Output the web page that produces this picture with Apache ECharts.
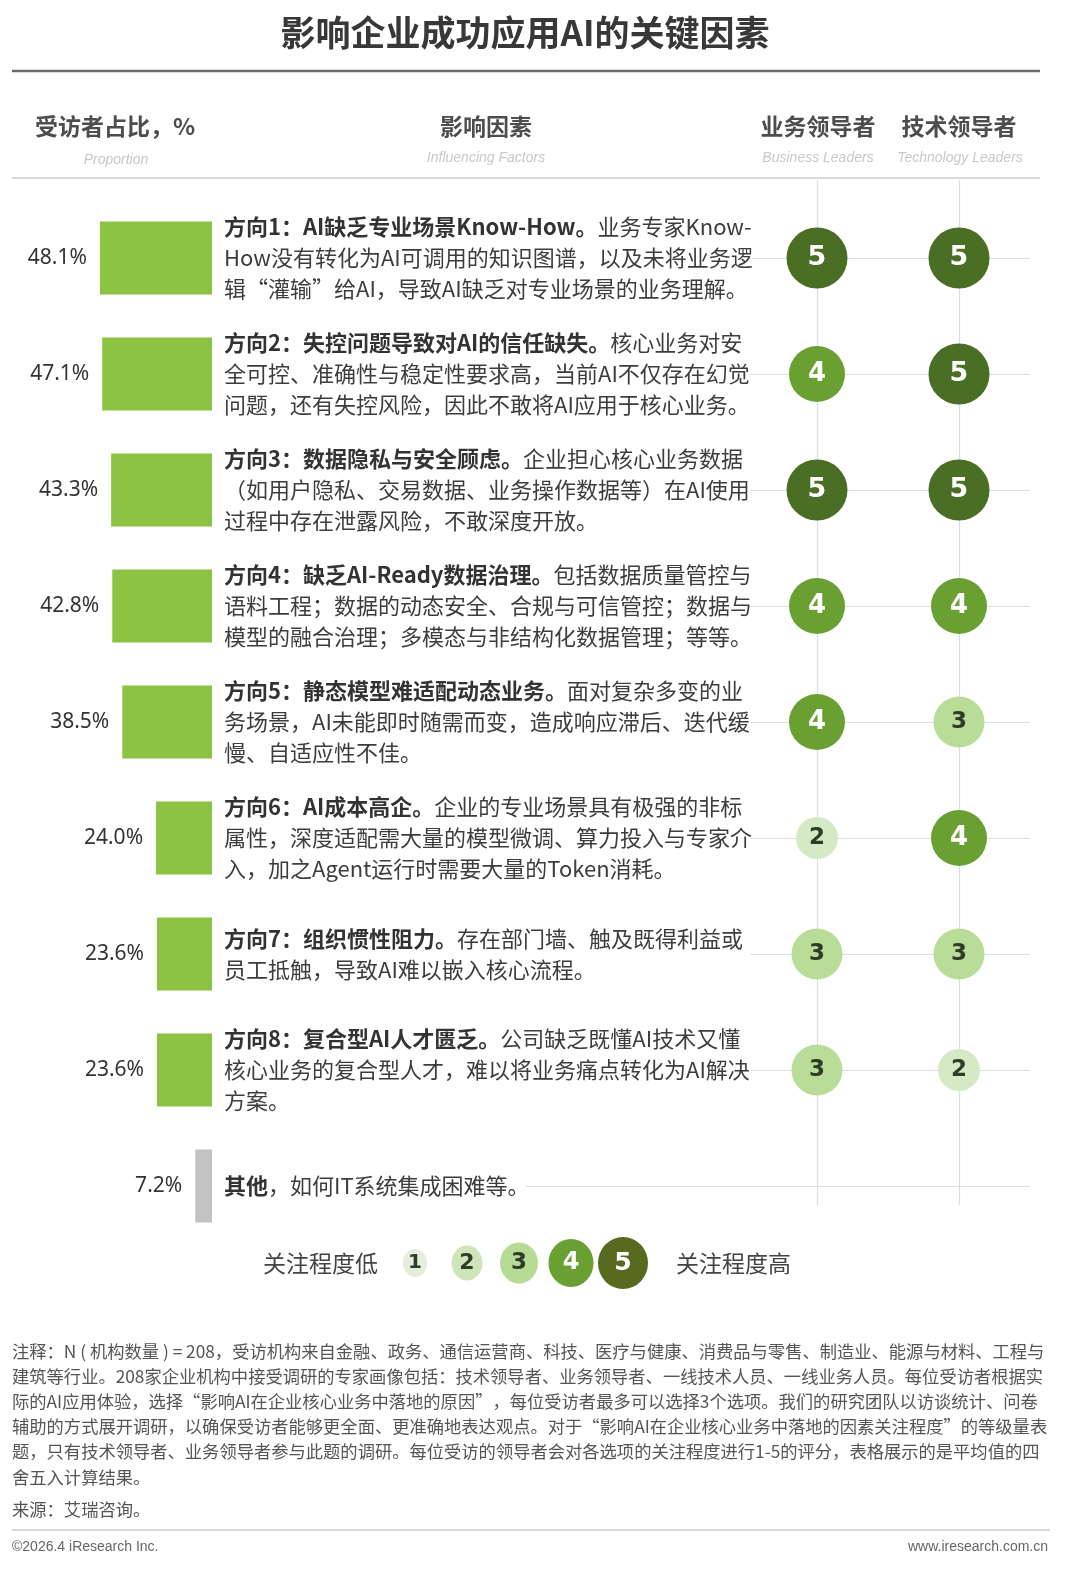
<!DOCTYPE html>
<html><head><meta charset="utf-8">
<script src="https://cdn.jsdelivr.net/npm/echarts@6/dist/echarts.min.js"></script>
<style>html,body{margin:0;padding:0;background:#fff}#c{width:1078px;height:1584px}</style>
</head><body><div id="c"></div>
<script>
// ---------- data ----------
const categories = ['方向1','方向2','方向3','方向4','方向5','方向6','方向7','方向8','其他'];
const proportion = [48.1, 47.1, 43.3, 42.8, 38.5, 24.0, 23.6, 23.6, 7.2];
const businessScores = [5, 4, 5, 4, 4, 2, 3, 3, null];
const techScores = [5, 5, 5, 4, 3, 4, 3, 2, null];
const legendLevels = [1, 2, 3, 4, 5];
const factorTitles = [
  '方向1：AI缺乏专业场景Know-How。',
  '方向2：失控问题导致对AI的信任缺失。',
  '方向3：数据隐私与安全顾虑。',
  '方向4：缺乏AI-Ready数据治理。',
  '方向5：静态模型难适配动态业务。',
  '方向6：AI成本高企。',
  '方向7：组织惯性阻力。',
  '方向8：复合型AI人才匮乏。',
  '其他'
];
const factorLines = [
  ['业务专家Know-', 'How没有转化为AI可调用的知识图谱，以及未将业务逻', '辑“灌输”给AI，导致AI缺乏对专业场景的业务理解。'],
  ['核心业务对安', '全可控、准确性与稳定性要求高，当前AI不仅存在幻觉', '问题，还有失控风险，因此不敢将AI应用于核心业务。'],
  ['企业担心核心业务数据', '（如用户隐私、交易数据、业务操作数据等）在AI使用', '过程中存在泄露风险，不敢深度开放。'],
  ['包括数据质量管控与', '语料工程；数据的动态安全、合规与可信管控；数据与', '模型的融合治理；多模态与非结构化数据管理；等等。'],
  ['面对复杂多变的业', '务场景，AI未能即时随需而变，造成响应滞后、迭代缓', '慢、自适应性不佳。'],
  ['企业的专业场景具有极强的非标', '属性，深度适配需大量的模型微调、算力投入与专家介', '入，加之Agent运行时需要大量的Token消耗。'],
  ['存在部门墙、触及既得利益或', '员工抵触，导致AI难以嵌入核心流程。'],
  ['公司缺乏既懂AI技术又懂', '核心业务的复合型人才，难以将业务痛点转化为AI解决', '方案。'],
  ['，如何IT系统集成困难等。']
];
const notesLines = [
  '注释：N ( 机构数量 ) = 208，受访机构来自金融、政务、通信运营商、科技、医疗与健康、消费品与零售、制造业、能源与材料、工程与',
  '建筑等行业。208家企业机构中接受调研的专家画像包括：技术领导者、业务领导者、一线技术人员、一线业务人员。每位受访者根据实',
  '际的AI应用体验，选择“影响AI在企业核心业务中落地的原因”，每位受访者最多可以选择3个选项。我们的研究团队以访谈统计、问卷',
  '辅助的方式展开调研，以确保受访者能够更全面、更准确地表达观点。对于“影响AI在企业核心业务中落地的因素关注程度”的等级量表',
  '题，只有技术领导者、业务领导者参与此题的调研。每位受访的领导者会对各选项的关注程度进行1-5的评分，表格展示的是平均值的四',
  '舍五入计算结果。'
];
const sourceText = '来源：艾瑞咨询。';

// ---------- styles ----------
const CJK = '"Noto Sans CJK SC", "Noto Sans", sans-serif';
const tableColors = {5: '#4a6e23', 4: '#6a9f31', 3: '#b9dc98', 2: '#d5e9c5', 1: '#e7efdf'};
const legendColors = {5: '#566b1d', 4: '#6a9f31', 3: '#b7da95', 2: '#cfe4bb', 1: '#e6eddd'};
const tableSizes = {5: 61, 4: 56, 3: 51, 2: 42, 1: 32};
const tableFont = {5: 27, 4: 26, 3: 23, 2: 23, 1: 21};
const legendSizes = {1: [24, 28], 2: [31, 35], 3: [38, 41], 4: [45, 48], 5: [50, 52]};
const legendFont = {1: 20, 2: 22, 3: 23, 4: 24, 5: 25};
const numFont = '"DejaVu Sans", sans-serif';

function descFormatter(value, idx) {
  const lines = factorLines[idx];
  let s = '{b|' + factorTitles[idx] + '}' + (lines[0] ? '{n|' + lines[0] + '}' : '');
  for (let k = 1; k < lines.length; k++) s += '\n{n|' + lines[k] + '}';
  return s;
}

const rowMin = -0.6724, rowMax = 8.1638; // grid1 vertical extent in row units
const colBiz = 0, colTech = 2, xMin = -4.1, xMax = 3, lineStart = -0.94;

const gridLines = [];
for (let i = 0; i < categories.length; i++) {
  gridLines.push([{coord: [i === categories.length - 1 ? xMin : lineStart, i]}, {coord: [xMax, i]}]);
}
gridLines.push([{coord: [colBiz, rowMin]}, {coord: [colBiz, rowMax]}]);
gridLines.push([{coord: [colTech, rowMin]}, {coord: [colTech, rowMax]}]);

function buildScore(scores, col) {
  return {
    type: 'scatter', xAxisIndex: 1, yAxisIndex: 1, z: 5, silent: true,
    data: scores.map((v, i) => v == null ? null : [col, i, v]).filter(d => d).map(d => ({
      value: d,
      symbolSize: tableSizes[d[2]],
      itemStyle: {color: tableColors[d[2]], opacity: 1},
      label: {color: d[2] >= 4 ? '#ffffff' : '#2e3d26', fontSize: tableFont[d[2]]}
    })),
    itemStyle: {opacity: 1},
    label: {
      show: true, position: 'inside', fontWeight: 'bold', fontFamily: numFont,
      formatter: p => String(p.value[2])
    }
  };
}

const graphics = [];
function txt(text, x, y, font, fill, align) {
  graphics.push({type: 'text', silent: true, style: {text, x, y, font, fill, textAlign: align || 'left', textVerticalAlign: 'middle'}});
}
function hline(x1, x2, y, stroke, w) {
  graphics.push({type: 'line', silent: true, shape: {x1, y1: y, x2, y2: y}, style: {stroke, lineWidth: w}});
}
txt('影响企业成功应用AI的关键因素', 525, 33, 'bold 35px ' + CJK, '#383838', 'center');
hline(12, 1040, 71, '#6b6b6b', 2.5);
txt('受访者占比，%', 35, 126, 'bold 23px ' + CJK, '#4d4d4d', 'left');
txt('Proportion', 116, 160, 'italic 14px "Liberation Sans", sans-serif', '#c8c8c8', 'center');
txt('影响因素', 486, 126, 'bold 23px ' + CJK, '#4d4d4d', 'center');
txt('Influencing Factors', 486, 158, 'italic 14px "Liberation Sans", sans-serif', '#c8c8c8', 'center');
txt('业务领导者', 818, 126, 'bold 23px ' + CJK, '#4d4d4d', 'center');
txt('Business Leaders', 818, 158, 'italic 14px "Liberation Sans", sans-serif', '#c8c8c8', 'center');
txt('技术领导者', 959, 126, 'bold 23px ' + CJK, '#4d4d4d', 'center');
txt('Technology Leaders', 960, 158, 'italic 14px "Liberation Sans", sans-serif', '#c8c8c8', 'center');
hline(12, 1040, 178, '#cccccc', 1.5);
txt('关注程度低', 378, 1263, '23px ' + CJK, '#444444', 'right');
txt('关注程度高', 676, 1263, '23px ' + CJK, '#444444', 'left');
notesLines.forEach((l, i) => txt(l, 12, 1351 + i * 25.2, '17.3px ' + CJK, '#555555', 'left'));
txt(sourceText, 12, 1509, '17.3px ' + CJK, '#555555', 'left');
hline(12, 1050, 1530, '#cccccc', 1.5);
txt('©2026.4 iResearch Inc.', 12, 1547, '14px "Liberation Sans", sans-serif', '#666666', 'left');
txt('www.iresearch.com.cn', 1048, 1547, '14px "Liberation Sans", sans-serif', '#666666', 'right');

const chart = echarts.init(document.getElementById('c'), null, {renderer: 'canvas'});

const option = {
  animation: false,
  backgroundColor: '#ffffff',
  grid: [
    {left: 95.5, width: 116.5, top: 200, height: 1044},
    {left: 525.9, width: 504.1, top: 180, height: 1025},
    {left: 389, width: 260, top: 1238, height: 50}
  ],
  xAxis: [
    {gridIndex: 0, type: 'value', min: 0, max: 50, inverse: true, show: false},
    {gridIndex: 1, type: 'value', min: xMin, max: xMax, show: false},
    {gridIndex: 2, type: 'category', data: legendLevels.map(String), show: false}
  ],
  yAxis: [
    {
      gridIndex: 0, type: 'category', data: categories, inverse: true, position: 'right',
      axisLine: {show: false}, axisTick: {show: false}, splitLine: {show: false},
      axisLabel: {
        interval: 0, margin: 12, align: 'left', formatter: descFormatter,
        rich: {
          b: {fontFamily: CJK, fontWeight: 'bold', fontSize: 22, lineHeight: 31, color: '#333333'},
          n: {fontFamily: CJK, fontSize: 22, lineHeight: 31, color: '#3d3d3d'}
        }
      }
    },
    {gridIndex: 1, type: 'value', min: rowMin, max: rowMax, inverse: true, show: false},
    {gridIndex: 2, type: 'value', min: 0, max: 1, show: false}
  ],
  series: [
    {
      type: 'bar', xAxisIndex: 0, yAxisIndex: 0, barWidth: 73, silent: true,
      data: proportion.map((v, i) => ({value: v, itemStyle: {color: i === proportion.length - 1 ? '#c2c2c2' : '#8cc342'}})),
      label: {
        show: true, position: 'left', distance: 13,
        formatter: p => p.value.toFixed(1) + '%',
        fontFamily: '"Noto Sans", sans-serif', fontSize: 21, color: '#333333'
      }
    },
    {
      type: 'scatter', xAxisIndex: 1, yAxisIndex: 1, z: 1, silent: true, data: [],
      markLine: {
        silent: true, symbol: ['none', 'none'], label: {show: false},
        lineStyle: {color: '#dedede', width: 1.2, type: 'solid'},
        data: gridLines
      }
    },
    buildScore(businessScores, colBiz),
    buildScore(techScores, colTech),
    {
      type: 'scatter', xAxisIndex: 2, yAxisIndex: 2, silent: true,
      itemStyle: {opacity: 1},
      data: legendLevels.map((lv, i) => ({
        value: [i, 0.5, lv],
        symbolSize: legendSizes[lv],
        itemStyle: {color: legendColors[lv], opacity: 1},
        label: {color: lv >= 4 ? '#ffffff' : '#2e3d26', fontSize: legendFont[lv]}
      })),
      label: {show: true, position: 'inside', fontWeight: 'bold', fontFamily: numFont, formatter: p => String(p.value[2])}
    }
  ],
  graphic: graphics
};
chart.setOption(option);
</script>
</body></html>
